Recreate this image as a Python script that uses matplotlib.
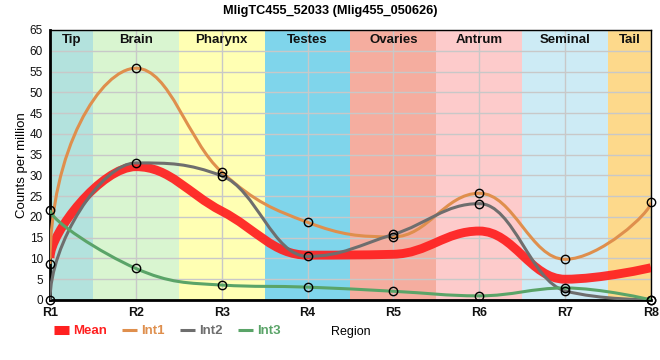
import numpy as np
import matplotlib
matplotlib.use("Agg")
import matplotlib.pyplot as plt
from matplotlib.lines import Line2D
from matplotlib.path import Path
from matplotlib.patches import PathPatch

plt.rcParams['font.family'] = ['Liberation Sans', 'DejaVu Sans']

regions = ["R1", "R2", "R3", "R4", "R5", "R6", "R7", "R8"]
mean = [10.1, 32.1, 21.4, 10.8, 11.0, 16.6, 5.0, 7.8]
int1 = [8.7, 55.8, 30.8, 18.7, 15.2, 25.7, 9.8, 23.5]
int2 = [0.0, 33.0, 29.9, 10.5, 15.8, 23.2, 2.2, 0.0]
int3 = [21.7, 7.6, 3.6, 3.1, 2.1, 1.0, 2.9, 0.0]

tissues = ["Tip", "Brain", "Pharynx", "Testes", "Ovaries", "Antrum", "Seminal", "Tail"]
tissue_colors = ["#b3e2dd", "#d9f5d0", "#ffffb3", "#7fd5eb", "#f5ad9f",
                 "#fdcbcb", "#cdebf5", "#fdd98b"]


def spline_path(xs, ys, smoothing=1.5, end_scale=80.0):
    """Smooth spline path through the points (Highcharts-like control points)."""
    xs = [float(v) for v in xs]
    ys = [float(v) for v in ys]
    n = len(xs)
    denom = smoothing + 1
    left = [None] * n
    right = [None] * n
    for i in range(1, n - 1):
        px, py = xs[i], ys[i]
        lx, ly = xs[i - 1], ys[i - 1]
        nx, ny = xs[i + 1], ys[i + 1]
        lcx = (smoothing * px + lx) / denom
        lcy = (smoothing * py + ly) / denom
        rcx = (smoothing * px + nx) / denom
        rcy = (smoothing * py + ny) / denom
        corr = (rcy - lcy) * (rcx - px) / (rcx - lcx) + py - rcy
        lcy += corr
        rcy += corr
        if lcy > ly and lcy > py:
            lcy = max(ly, py); rcy = 2 * py - lcy
        elif lcy < ly and lcy < py:
            lcy = min(ly, py); rcy = 2 * py - lcy
        if rcy > ny and rcy > py:
            rcy = max(ny, py); lcy = 2 * py - rcy
        elif rcy < ny and rcy < py:
            rcy = min(ny, py); lcy = 2 * py - rcy
        left[i] = (lcx, lcy)
        right[i] = (rcx, rcy)
    # end points: vertical-ish tangent whose strength grows with the step
    d0 = ys[1] - ys[0]
    a0 = min(0.7, abs(d0) / end_scale)
    right[0] = (xs[0], ys[0] + a0 * d0)
    d1 = ys[-2] - ys[-1]
    a1 = min(0.7, abs(d1) / end_scale)
    left[-1] = (xs[-1], ys[-1] + a1 * d1)
    verts = [(xs[0], ys[0])]
    codes = [Path.MOVETO]
    for i in range(1, n):
        verts += [right[i - 1], left[i], (xs[i], ys[i])]
        codes += [Path.CURVE4] * 3
    return Path(verts, codes)


fig = plt.figure(figsize=(6.6, 3.6), dpi=100)
ax = fig.add_axes([50 / 660, 1 - 300 / 360, 601 / 660, 270 / 360])
x = np.arange(len(regions))

for i, (name, c) in enumerate(zip(tissues, tissue_colors)):
    lo = max(i - 0.5, 0)
    hi = min(i + 0.5, len(regions) - 1)
    ax.axvspan(lo, hi, color=c, zorder=0, lw=0)
    ax.text((lo + hi) / 2, 62.6, name, ha="center", va="center",
            fontsize=9.5, fontweight="bold", color="#111111", zorder=5)

ax.set_xlim(0, len(regions) - 1)
ax.set_ylim(0, 65)
ax.set_yticks(np.arange(0, 66, 5))
ax.set_xticks(x)
ax.set_xticklabels(regions, fontweight="bold")
ax.grid(True, color="#c8c8c8", lw=1)
for gl in ax.get_xgridlines() + ax.get_ygridlines():
    gl.set_zorder(1)

series = [
    ("Mean", mean, "#ff2020", 6.4, 0.93),
    ("Int1", int1, "#df8f4d", 2.2, 1.0),
    ("Int2", int2, "#6e6e6e", 2.2, 1.0),
    ("Int3", int3, "#5aa468", 2.2, 1.0),
]
handles = []
for name, vals, col, lw, a in series:
    p = spline_path(x, vals)
    ax.add_patch(PathPatch(p, fc="none", ec=col, lw=lw, alpha=a, zorder=3,
                           capstyle="butt", joinstyle="round"))
    if name != "Mean":
        ax.plot(x, vals, ls="none", marker="o", ms=6, mfc="none", mec="black",
                mew=1.0, zorder=4, clip_on=False)
    handles.append(Line2D([], [], color=col, lw=(6.5 if name == "Mean" else 2.2),
                          solid_capstyle="butt"))

for side in ["left", "bottom"]:
    ax.spines[side].set_linewidth(2)
for side in ["top", "right"]:
    ax.spines[side].set_linewidth(1)
ax.tick_params(axis="both", length=0, colors="#111111")
ax.tick_params(axis="y", labelsize=8.5, pad=5)
ax.tick_params(axis="x", labelsize=9, pad=5)

ax.set_ylabel("Counts per million", fontsize=9.5, labelpad=1)
ax.set_xlabel("Region", fontsize=9, labelpad=5)

leg = fig.legend(handles, [s[0] for s in series], loc="center left",
                 bbox_to_anchor=(54 / 660, 1 - 331 / 360), ncol=4, frameon=False,
                 prop={"size": 9.5, "weight": "bold"}, handlelength=1.15,
                 handletextpad=0.3, columnspacing=1.15,
                 borderaxespad=0, borderpad=0)
for txt, s in zip(leg.get_texts(), series):
    txt.set_color(s[2])

fig.suptitle("MligTC455_52033 (Mlig455_050626)", fontsize=9.2, fontweight="bold", y=0.985)
fig.savefig("out.png", dpi=100)
